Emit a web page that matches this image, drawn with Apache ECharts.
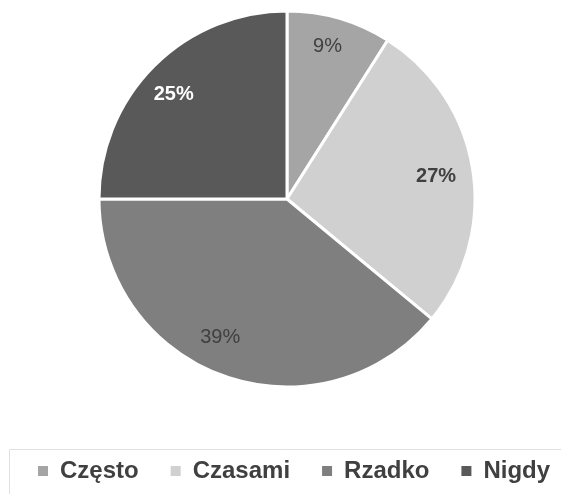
<!DOCTYPE html>
<html>
<head>
<meta charset="utf-8">
<script src="https://cdn.jsdelivr.net/npm/echarts@6/dist/echarts.min.js"></script>
<style>
  html, body { margin: 0; padding: 0; background: #ffffff; }
  #chart { width: 561px; height: 494px; }
</style>
</head>
<body>
<div id="chart"></div>
<script>
// Answer categories and their shares (percent)
const categories = ['Często', 'Czasami', 'Rzadko', 'Nigdy'];
const shares = [9, 27, 39, 25];
const sliceColors = ['#a5a5a5', '#d0d0d0', '#7f7f7f', '#595959'];
const labelColors = ['#404040', '#404040', '#404040', '#ffffff'];
const labelWeights = ['normal', 'bold', 'normal', 'bold'];

const chart = echarts.init(document.getElementById('chart'), null, { renderer: 'canvas' });

const sliceData = categories.map((name, i) => ({
  name: name,
  value: shares[i],
  itemStyle: { color: sliceColors[i] }
}));

// Transparent ring used only to place the percentage labels near the rim
const labelData = categories.map((name, i) => ({
  name: name,
  value: shares[i],
  label: { color: labelColors[i], fontWeight: labelWeights[i] }
}));

// Small best-fit nudges for the in-slice labels
const labelNudge = [[-3, -3], [-5, 2], [-14, -8], [-3, 6]];

const center = [287, 199];

chart.setOption({
  animation: false,
  backgroundColor: '#ffffff',
  legend: {
    data: categories,
    left: 36,
    top: 459,
    icon: 'rect',
    itemWidth: 12,
    itemHeight: 12,
    itemGap: 30,
    padding: 0,
    textStyle: {
      fontFamily: 'Liberation Sans, Arial, sans-serif',
      fontSize: 24,
      fontWeight: 'bold',
      color: '#404040',
      padding: [0, 0, 0, 6]
    }
  },
  graphic: [{
    type: 'rect',
    silent: true,
    shape: { x: 9.5, y: 449.5, width: 600, height: 100 },
    style: { fill: 'none', stroke: '#e0e0e0', lineWidth: 1 }
  }],
  series: [
    {
      type: 'pie',
      center: center,
      radius: [0, 188],
      startAngle: 90,
      clockwise: true,
      silent: true,
      itemStyle: { borderColor: '#ffffff', borderWidth: 3 },
      label: { show: false },
      labelLine: { show: false },
      data: sliceData
    },
    {
      type: 'pie',
      center: center,
      radius: [118, 188],
      startAngle: 90,
      clockwise: true,
      silent: true,
      itemStyle: { color: 'rgba(0,0,0,0)', borderWidth: 0 },
      label: {
        show: true,
        position: 'inside',
        formatter: '{c}%',
        fontFamily: 'Liberation Sans, Arial, sans-serif',
        fontSize: 20
      },
      labelLayout: function (params) {
        const n = labelNudge[params.dataIndex];
        return { dx: n[0], dy: n[1] };
      },
      labelLine: { show: false },
      data: labelData
    }
  ]
});
</script>
</body>
</html>
